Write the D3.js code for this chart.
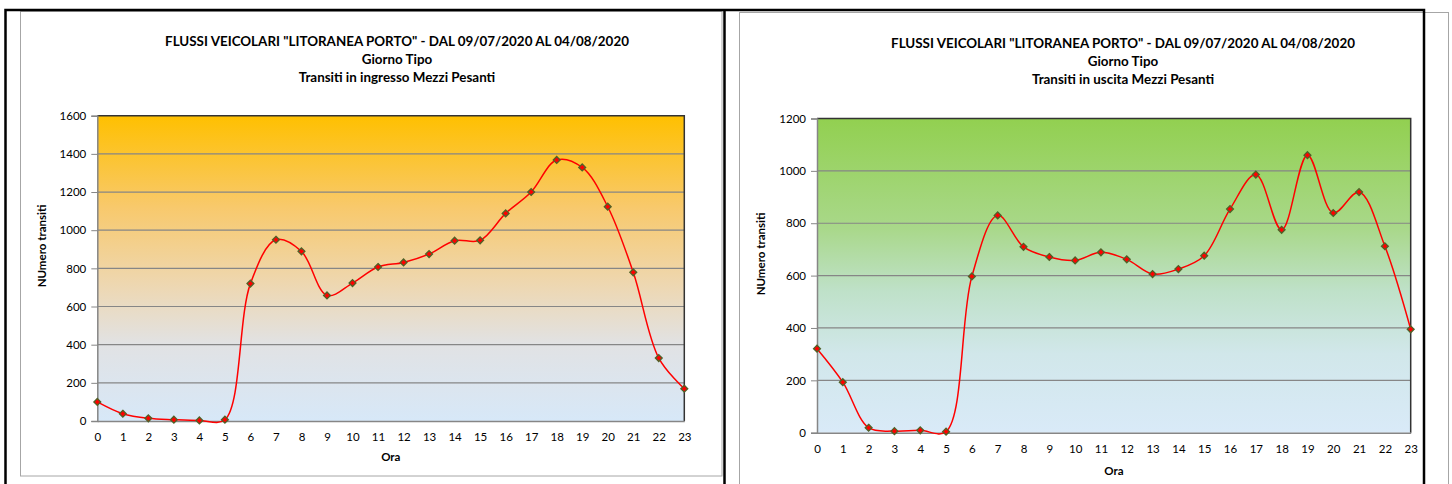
<!DOCTYPE html>
<html lang="it">
<head>
<meta charset="utf-8" />
<title>Flussi veicolari Litoranea Porto</title>
<script src="https://cdn.jsdelivr.net/npm/d3@7"></script>
<style>
  body { margin: 0; background: #fff; }
  text { font-family: Lato, "Liberation Sans", sans-serif; fill: #000; }
</style>
</head>
<body>
<div id="chart"></div>
<script>
// hours of the day (x categories)
var hours = [0, 1, 2, 3, 4, 5, 6, 7, 8, 9, 10, 11, 12, 13, 14, 15, 16, 17, 18, 19, 20, 21, 22, 23];

// transits, heavy vehicles, entering
var ingresso = [100, 38, 14, 7, 3, 7, 720, 950, 889, 658, 723, 807, 831, 875, 945, 947, 1088, 1200, 1368, 1329, 1123, 779, 330, 169];
// transits, heavy vehicles, leaving
var uscita = [321, 193, 19, 6, 9, 4, 597, 830, 710, 671, 658, 689, 662, 606, 625, 676, 854, 986, 775, 1060, 839, 919, 712, 395];

var ticksIngresso = [0, 200, 400, 600, 800, 1000, 1200, 1400, 1600];
var ticksUscita = [0, 200, 400, 600, 800, 1000, 1200];

var titleTop = 'FLUSSI VEICOLARI "LITORANEA PORTO" - DAL 09/07/2020 AL 04/08/2020';
var titleMid = "Giorno Tipo";
var subIngresso = "Transiti in ingresso Mezzi Pesanti";
var subUscita = "Transiti in uscita Mezzi Pesanti";

var W = 1452, H = 484;

var svg = d3.select("#chart").append("svg")
    .attr("width", W)
    .attr("height", H);

var defs = svg.append("defs");

function drawChart(cfg) {
    // chart frame
    svg.append("rect")
        .attr("x", cfg.frame[0]).attr("y", cfg.frame[1])
        .attr("width", cfg.frame[2]).attr("height", cfg.frame[3])
        .attr("fill", "#fff")
        .attr("stroke", "#a6a6a6")
        .attr("stroke-width", 1);

    // background gradient
    var grad = defs.append("linearGradient")
        .attr("id", cfg.id)
        .attr("x1", 0).attr("y1", 0).attr("x2", 0).attr("y2", 1);
    grad.selectAll("stop").data(cfg.stops).enter().append("stop")
        .attr("offset", function (d) { return d[0]; })
        .attr("stop-color", function (d) { return d[1]; });

    var x = d3.scalePoint().domain(hours).range([cfg.left, cfg.right]);
    var y = d3.scaleLinear().domain([0, cfg.ymax]).range([cfg.bottom, cfg.top]);

    var g = svg.append("g");

    g.append("rect")
        .attr("x", cfg.left).attr("y", cfg.top)
        .attr("width", cfg.right - cfg.left)
        .attr("height", cfg.bottom - cfg.top)
        .attr("fill", "url(#" + cfg.id + ")");

    // gridlines
    g.selectAll(".grid").data(cfg.ticks.slice(1, -1)).enter().append("line")
        .attr("x1", cfg.left).attr("x2", cfg.right)
        .attr("y1", function (d) { return y(d); })
        .attr("y2", function (d) { return y(d); })
        .attr("stroke", "#868686")
        .attr("stroke-width", 1.2);

    // plot border (top and right are dark)
    g.append("path")
        .attr("d", "M" + cfg.left + "," + cfg.top + "H" + cfg.right + "V" + cfg.bottom)
        .attr("fill", "none")
        .attr("stroke", "#333")
        .attr("stroke-width", 1.5);

    // y axis
    var ya = g.append("g")
        .attr("transform", "translate(" + cfg.left + ",0)")
        .call(d3.axisLeft(y).tickValues(cfg.ticks).tickFormat(d3.format("d"))
            .tickSize(6).tickPadding(5));
    ya.select(".domain").attr("stroke", "#868686").attr("stroke-width", 1.5);
    ya.selectAll(".tick line").attr("stroke", "#868686");
    ya.selectAll("text").style("font-size", "11.5px").attr("fill", "#000");

    // x axis
    var xa = g.append("g")
        .attr("transform", "translate(0," + cfg.bottom + ")")
        .call(d3.axisBottom(x).tickSize(0).tickPadding(12));
    xa.select(".domain").attr("stroke", "#868686").attr("stroke-width", 1.5);
    xa.selectAll("text").style("font-size", "11.5px").attr("fill", "#000");

    // smoothed line
    var line = d3.line()
        .x(function (d, i) { return x(hours[i]); })
        .y(function (d) { return y(d); })
        .curve(d3.curveCatmullRom.alpha(0.5));

    g.append("path")
        .datum(cfg.values)
        .attr("d", line)
        .attr("fill", "none")
        .attr("stroke", "#ff0000")
        .attr("stroke-width", 1.5);

    // diamond markers
    var diamond = d3.symbol().type(d3.symbolDiamond2).size(30);
    g.selectAll(".pt").data(cfg.values).enter().append("path")
        .attr("d", diamond)
        .attr("transform", function (d, i) {
            return "translate(" + x(hours[i]) + "," + y(d) + ")";
        })
        .attr("fill", "#ff0000")
        .attr("stroke", "#4f6228")
        .attr("stroke-width", 1.3);

    // titles
    var t = svg.append("g").attr("text-anchor", "middle")
        .style("font-weight", "bold").style("font-size", "13.4px");
    t.append("text").attr("x", cfg.titleX).attr("y", cfg.titleY).text(titleTop);
    t.append("text").attr("x", cfg.titleX).attr("y", cfg.titleY + 18).text(titleMid);
    t.append("text").attr("x", cfg.titleX).attr("y", cfg.titleY + 36).text(cfg.sub);

    // axis titles
    svg.append("text")
        .attr("x", (cfg.left + cfg.right) / 2)
        .attr("y", cfg.oraY)
        .attr("text-anchor", "middle")
        .style("font-weight", "bold").style("font-size", "11.5px")
        .text("Ora");

    svg.append("text")
        .attr("transform", "translate(" + cfg.ylabX + "," + cfg.ylabY + ") rotate(-90)")
        .attr("text-anchor", "middle")
        .style("font-weight", "bold").style("font-size", "11.5px")
        .text("NUmero transiti");
}

drawChart({
    id: "gradIn",
    frame: [20.5, 11.5, 701.5, 464.5],
    left: 97.3, right: 684.3, top: 115.7, bottom: 421,
    ymax: 1600, ticks: ticksIngresso, values: ingresso,
    stops: [[0, "#ffc000"], [0.3, "#f8c96c"], [0.55, "#eed7b0"], [0.75, "#e1e2e4"], [1, "#d7e8f8"]],
    titleX: 397, titleY: 46, sub: subIngresso,
    oraY: 461, ylabX: 46, ylabY: 246
});

drawChart({
    id: "gradOut",
    frame: [739.5, 12.5, 709, 480],
    left: 817, right: 1410.7, top: 118.5, bottom: 432.7,
    ymax: 1200, ticks: ticksUscita, values: uscita,
    stops: [[0, "#92d050"], [0.35, "#a9d88a"], [0.55, "#bfe1c9"], [0.75, "#d1e7ea"], [1, "#d9eaf8"]],
    titleX: 1123, titleY: 48, sub: subUscita,
    oraY: 475, ylabX: 765, ylabY: 254
});

// outer black border and divider
svg.append("path")
    .attr("d", "M5.5," + H + "V10H1424V" + H + "M724.5,10V" + H)
    .attr("fill", "none")
    .attr("stroke", "#000")
    .attr("stroke-width", 2.5);
</script>
</body>
</html>
